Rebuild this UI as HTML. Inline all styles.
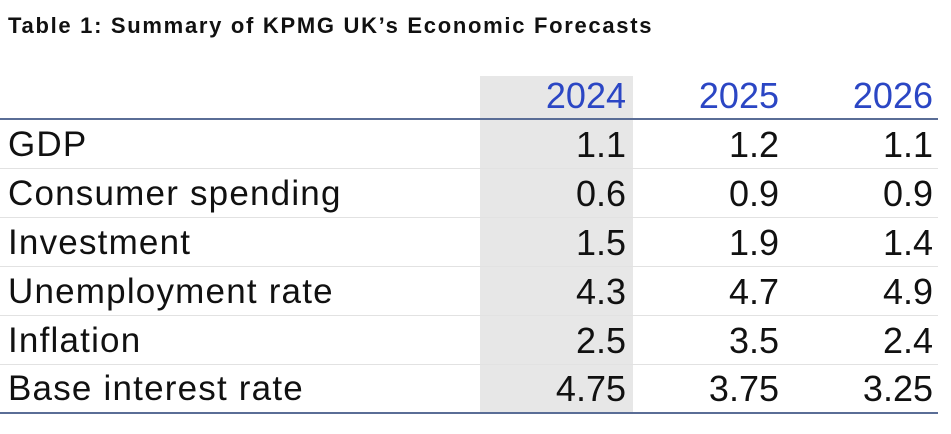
<!DOCTYPE html>
<html><head><style>
body{margin:0;width:951px;height:434px;background:#fff;position:relative;overflow:hidden;font-family:"Liberation Sans",Arial,sans-serif}
.t{position:absolute;left:8px;top:13px;font-size:22px;font-weight:bold;color:#111;letter-spacing:1.7px}
.g{position:absolute;left:480px;top:76px;width:153px;height:337px;background:#e7e7e7}
.l{position:absolute;left:0;width:938px;height:1px;background:#e2e2e2}
.b{position:absolute;left:0;width:938px;height:2px;background:#5a6d96}
.r{position:absolute;left:8px;font-size:35px;color:#111;white-space:nowrap;line-height:40px;letter-spacing:1.2px}
.v{position:absolute;font-size:36px;color:#111;text-align:right;width:150px;line-height:40px}
.y{color:#2b46c4}
</style></head><body>
<div class="t">Table 1: Summary of KPMG UK’s Economic Forecasts</div>
<div class="g"></div>
<div class="b" style="top:118px"></div>
<div class="l" style="top:168px"></div>
<div class="l" style="top:217px"></div>
<div class="l" style="top:266px"></div>
<div class="l" style="top:315px"></div>
<div class="l" style="top:364px"></div>
<div class="b" style="top:412px"></div>
<div class="v y" style="left:476px;top:76px">2024</div>
<div class="v y" style="left:629px;top:76px">2025</div>
<div class="v y" style="left:783px;top:76px">2026</div>
<div class="r" style="top:125px">GDP</div>
<div class="r" style="top:174px">Consumer spending</div>
<div class="r" style="top:223px">Investment</div>
<div class="r" style="top:272px">Unemployment rate</div>
<div class="r" style="top:321px">Inflation</div>
<div class="r" style="top:369px">Base interest rate</div>
<div class="v" style="left:476px;top:125px">1.1</div><div class="v" style="left:629px;top:125px">1.2</div><div class="v" style="left:783px;top:125px">1.1</div>
<div class="v" style="left:476px;top:174px">0.6</div><div class="v" style="left:629px;top:174px">0.9</div><div class="v" style="left:783px;top:174px">0.9</div>
<div class="v" style="left:476px;top:223px">1.5</div><div class="v" style="left:629px;top:223px">1.9</div><div class="v" style="left:783px;top:223px">1.4</div>
<div class="v" style="left:476px;top:272px">4.3</div><div class="v" style="left:629px;top:272px">4.7</div><div class="v" style="left:783px;top:272px">4.9</div>
<div class="v" style="left:476px;top:321px">2.5</div><div class="v" style="left:629px;top:321px">3.5</div><div class="v" style="left:783px;top:321px">2.4</div>
<div class="v" style="left:476px;top:369px">4.75</div><div class="v" style="left:629px;top:369px">3.75</div><div class="v" style="left:783px;top:369px">3.25</div>
</body></html>
